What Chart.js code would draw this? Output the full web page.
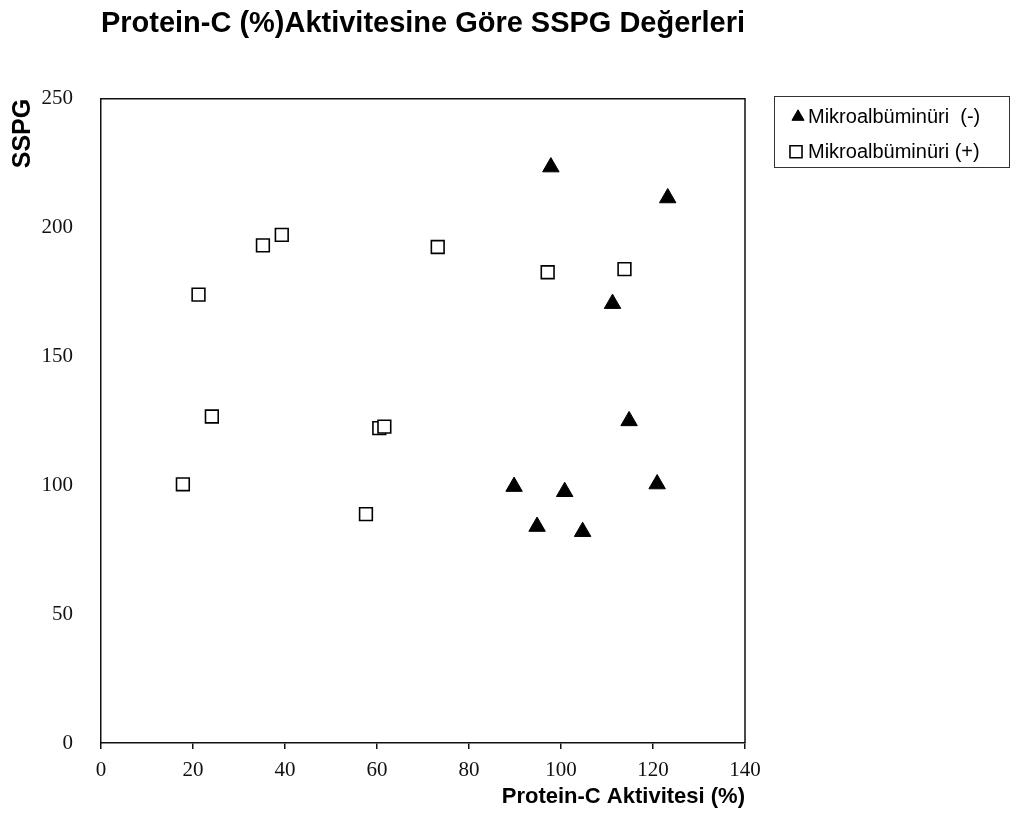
<!DOCTYPE html>
<html>
<head>
<meta charset="utf-8">
<script src="https://cdn.jsdelivr.net/npm/chart.js@4.4.1/dist/chart.umd.min.js"></script>
<style>
html,body{margin:0;padding:0;background:#fff;}
#wrap{width:1016px;height:816px;position:relative;}
</style>
</head>
<body>
<div id="wrap"><canvas id="c" width="1016" height="816"></canvas></div>
<script>
// ---- data ----
const chartTitle = 'Protein-C (%)Aktivitesine Göre SSPG Değerleri';
const xAxisTitle = 'Protein-C Aktivitesi (%)';
const yAxisTitle = 'SSPG';
const seriesLabels = ['Mikroalbüminüri  (-)', 'Mikroalbüminüri (+)'];

// Mikroalbüminüri (-) : triangles
const negX = [97.8, 123.2, 111.2, 114.8, 89.8, 100.8, 120.9, 94.8, 104.7];
const negY = [223.5, 211.5, 170.5, 125, 99.5, 97.5, 100.5, 84, 82];

// Mikroalbüminüri (+) : squares
const posX = [17.8, 21.2, 24.1, 35.2, 39.3, 73.2, 57.6, 60.5, 61.6, 97.1, 113.8];
const posY = [100.4, 174.0, 126.7, 193.1, 197.2, 192.5, 88.8, 122.2, 122.8, 182.7, 183.9];

const xTicks = [0, 20, 40, 60, 80, 100, 120, 140];
const yTicks = [0, 50, 100, 150, 200, 250];

const toPoints = (xs, ys) => xs.map((x, i) => ({x: x, y: ys[i]}));

// frame on top and right of plot area
const framePlugin = {
  id: 'frame',
  afterDraw(chart) {
    const {ctx, chartArea: a} = chart;
    ctx.save();
    ctx.strokeStyle = '#111';
    ctx.lineWidth = 1.5;
    ctx.beginPath();
    ctx.moveTo(a.left, a.top);
    ctx.lineTo(a.right, a.top);
    ctx.lineTo(a.right, a.bottom);
    ctx.stroke();
    ctx.restore();
  }
};

// boxed legend to the right of the plot
const boxLegend = {
  id: 'boxLegend',
  afterDraw(chart) {
    const {ctx, chartArea: a} = chart;
    const x0 = a.right + 29, y0 = a.top - 3, w = 235, h = 71;
    ctx.save();
    ctx.strokeStyle = '#333';
    ctx.lineWidth = 1;
    ctx.strokeRect(Math.round(x0) + 0.5, Math.round(y0) + 0.5, w, h);
    ctx.font = '20px "Liberation Sans", Arial, sans-serif';
    ctx.textBaseline = 'middle';
    chart.data.datasets.forEach((ds, i) => {
      const cy = y0 + 21 + i * 35;
      const mx = x0 + (i === 0 ? 24 : 22);
      ctx.fillStyle = ds.pointBackgroundColor;
      ctx.strokeStyle = ds.pointBorderColor;
      ctx.lineWidth = ds.pointBorderWidth;
      const opts = {pointStyle: ds.pointStyle, rotation: 0, radius: i === 0 ? 7 : 8.5, borderWidth: ds.pointBorderWidth};
      if (Chart.helpers && Chart.helpers.drawPoint) {
        Chart.helpers.drawPoint(ctx, opts, mx, cy);
      } else {
        ctx.beginPath();
        if (ds.pointStyle === 'triangle') {
          const r = opts.radius;
          ctx.moveTo(mx, cy - r);
          ctx.lineTo(mx + r * 0.866, cy + r / 2);
          ctx.lineTo(mx - r * 0.866, cy + r / 2);
          ctx.closePath();
        } else {
          const s = opts.radius * Math.SQRT1_2;
          ctx.rect(mx - s, cy - s, 2 * s, 2 * s);
        }
        ctx.fill(); ctx.stroke();
      }
      ctx.fillStyle = '#000';
      ctx.fillText(ds.label, x0 + 34, cy + 1);
    });
    ctx.restore();
  }
};

new Chart(document.getElementById('c'), {
  type: 'scatter',
  data: {
    datasets: [
      {
        label: seriesLabels[0],
        data: toPoints(negX, negY),
        pointStyle: 'triangle',
        pointRadius: 9.5,
        pointHoverRadius: 9.5,
        pointBackgroundColor: '#000',
        pointBorderColor: '#000',
        pointBorderWidth: 1,
        backgroundColor: '#000',
        borderColor: '#000'
      },
      {
        label: seriesLabels[1],
        data: toPoints(posX, posY),
        pointStyle: 'rect',
        pointRadius: 9,
        pointHoverRadius: 9,
        pointBackgroundColor: '#fff',
        pointBorderColor: '#000',
        pointBorderWidth: 1.6,
        backgroundColor: '#fff',
        borderColor: '#000'
      }
    ]
  },
  options: {
    responsive: false,
    animation: false,
    devicePixelRatio: 1,
    layout: {padding: {left: 0, right: 271, top: 0, bottom: 0}},
    plugins: {
      legend: {display: false},
      tooltip: {enabled: false},
      title: {
        display: true,
        text: chartTitle,
        align: 'start',
        fullSize: false,
        color: '#000',
        font: {family: '"Liberation Sans", Arial, sans-serif', size: 29, weight: 'bold'},
        padding: {top: 7, bottom: 57}
      }
    },
    scales: {
      x: {
        type: 'linear',
        min: 0,
        max: 140,
        afterBuildTicks: s => { s.ticks = xTicks.map(v => ({value: v})); },
        afterFit: s => { s.height = 73; },
        grid: {display: true, drawOnChartArea: false, drawTicks: true, tickLength: 6, color: '#111', lineWidth: 1.5},
        border: {display: true, color: '#111', width: 1.5},
        ticks: {
          color: '#111',
          padding: 9,
          font: {family: '"Liberation Serif", "Times New Roman", serif', size: 21}
        },
        title: {
          display: true,
          text: xAxisTitle,
          align: 'end',
          color: '#000',
          font: {family: '"Liberation Sans", Arial, sans-serif', size: 22, weight: 'bold'},
          padding: {top: 0, bottom: 6}
        }
      },
      y: {
        type: 'linear',
        min: 0,
        max: 250,
        afterBuildTicks: s => { s.ticks = yTicks.map(v => ({value: v})); },
        afterFit: s => { s.width = 101; },
        grid: {display: false, drawTicks: false},
        border: {display: true, color: '#111', width: 1.5},
        ticks: {
          color: '#111',
          padding: 28,
          font: {family: '"Liberation Serif", "Times New Roman", serif', size: 21}
        },
        title: {
          display: true,
          text: yAxisTitle,
          align: 'end',
          color: '#000',
          font: {family: '"Liberation Sans", Arial, sans-serif', size: 25, weight: 'bold'},
          padding: {top: 8, bottom: 0}
        }
      }
    }
  },
  plugins: [framePlugin, boxLegend]
});
</script>
</body>
</html>
